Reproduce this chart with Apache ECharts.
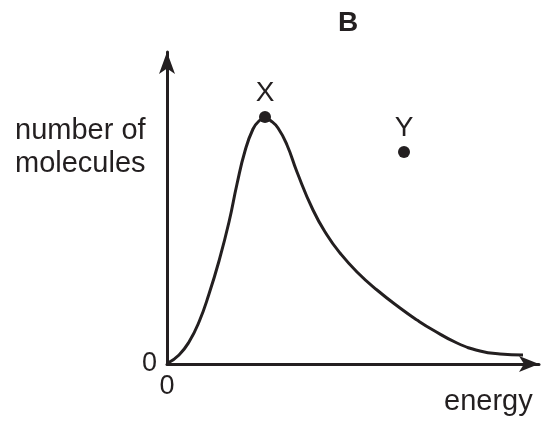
<!DOCTYPE html>
<html>
<head>
<meta charset="utf-8">
<script src="https://cdn.jsdelivr.net/npm/echarts@6/dist/echarts.min.js"></script>
<style>
  html, body { margin: 0; padding: 0; background: #fff; }
  #chart { width: 551px; height: 423px; }
</style>
</head>
<body>
<div id="chart"></div>
<script>
// curve (energy, number of molecules)
var energy = [1, 12, 22, 32, 42, 52, 62, 70, 78, 86, 92, 98, 104, 111, 120, 130, 146, 160, 173, 190, 210, 233, 250, 266, 290, 313, 333, 356];
var molecules = [1, 9, 22, 42, 70, 103, 142, 180, 213, 235, 243, 246, 243, 236, 219, 192, 154, 129, 111, 92, 74, 56, 44, 34, 21, 13, 10, 9];
// marked points
var pointNames = ['X', 'Y'];
var pointX = [98, 237];
var pointY = [247, 212];
var xMax = 372, yMax = 312;

var ink = '#231f20';
var font = '"Liberation Sans", Arial, sans-serif';

var curve = [];
for (var i = 0; i < energy.length; i++) {
    curve.push([energy[i], molecules[i]]);
}
var points = [];
for (var j = 0; j < pointNames.length; j++) {
    points.push({ name: pointNames[j], value: [pointX[j], pointY[j]] });
}

var mychart = echarts.init(document.getElementById('chart'));
var option = {
    animation: false,
    title: {
        text: 'B',
        left: 333,
        top: 4,
        textStyle: { fontFamily: font, fontSize: 28, fontWeight: 'bold', color: ink }
    },
    grid: { left: 167, top: 52, right: 12, bottom: 59 },
    xAxis: {
        type: 'value',
        min: 0,
        max: xMax,
        splitLine: { show: false },
        axisTick: { show: false },
        axisLine: {
            lineStyle: { color: ink, width: 3 },
            symbol: ['none', 'arrow'],
            symbolSize: [12, 20]
        },
        axisLabel: {
            margin: 9,
            color: ink,
            fontFamily: font,
            fontSize: 27,
            formatter: function (v) { return v === 0 ? '0' : ''; }
        }
    },
    yAxis: {
        type: 'value',
        min: 0,
        max: yMax,
        splitLine: { show: false },
        axisTick: { show: false },
        axisLine: {
            lineStyle: { color: ink, width: 3 },
            symbol: ['none', 'arrow'],
            symbolSize: [12, 22]
        },
        axisLabel: {
            margin: 10,
            color: ink,
            fontFamily: font,
            fontSize: 27,
            formatter: function (v) { return v === 0 ? '0' : ''; }
        }
    },
    graphic: [{
        type: 'text',
        left: 15,
        top: 114,
        style: {
            text: 'number of\nmolecules',
            fontFamily: font,
            fontSize: 29,
            lineHeight: 33,
            fill: ink,
            align: 'left'
        }
    }, {
        type: 'text',
        left: 444,
        top: 387,
        style: {
            text: 'energy',
            fontFamily: font,
            fontSize: 29,
            fill: ink
        }
    }],
    series: [{
        type: 'line',
        data: curve,
        smooth: 0.5,
        showSymbol: false,
        lineStyle: { color: ink, width: 3 }
    }, {
        type: 'scatter',
        data: points,
        symbolSize: 12,
        itemStyle: { color: ink, opacity: 1 },
        label: {
            show: true,
            position: 'top',
            distance: 4,
            formatter: '{b}',
            color: ink,
            fontFamily: font,
            fontSize: 28
        },
        z: 3
    }]
};
mychart.setOption(option);
</script>
</body>
</html>
